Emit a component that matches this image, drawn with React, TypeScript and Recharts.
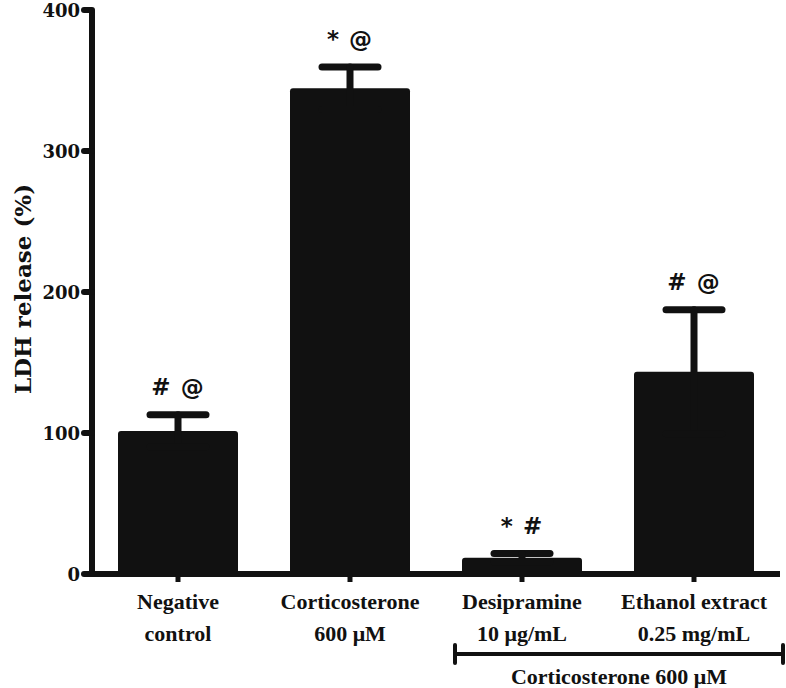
import React from 'react';
import { BarChart, Bar, XAxis, YAxis, ErrorBar, LabelList } from 'recharts';

const labelLine1 = ['Negative', 'Corticosterone', 'Desipramine', 'Ethanol extract'];
const labelLine2 = ['control', '600 μM', '10 μg/mL', '0.25 mg/mL'];
const means = [101.5, 344.5, 11.5, 143.5];
const errors = [11.5, 15, 3, 44];
const marks = ['# @', '* @', '* #', '# @'];
const yTicks = [0, 100, 200, 300, 400];
const groupLabel = 'Corticosterone 600 μM';
const yTitle = 'LDH release (%)';

const data = labelLine1.map((n, i) => ({
  name: n,
  line2: labelLine2[i],
  value: means[i],
  err: errors[i],
  mark: marks[i],
}));

const INK = '#111111';
const SERIF = '"DejaVu Serif", serif';
const XFONT = '"Liberation Serif", "Times New Roman", serif';

const XTick = (props: any) => {
  const { x, y, payload, index } = props;
  const i = index ?? payload.index;
  const common = { textAnchor: 'middle' as const, fontFamily: XFONT, fontWeight: 'bold', fontSize: 22, fill: INK };
  return (
    <g>
      <text x={x} y={y + 25} {...common}>
        {labelLine1[i]}
      </text>
      <text x={x} y={y + 57} {...common}>
        {labelLine2[i]}
      </text>
      {i === 2 && (
        <g>
          <line x1={x - 67} y1={y + 70} x2={x + 261} y2={y + 70} stroke={INK} strokeWidth={4} />
          <line x1={x - 67} y1={y + 61} x2={x - 67} y2={y + 79} stroke={INK} strokeWidth={4} strokeLinecap="round" />
          <line x1={x + 261} y1={y + 61} x2={x + 261} y2={y + 79} stroke={INK} strokeWidth={4} strokeLinecap="round" />
          <text x={x + 97} y={y + 100} {...common}>
            {groupLabel}
          </text>
        </g>
      )}
    </g>
  );
};

const YTick = (props: any) => {
  const { x, y, payload } = props;
  return (
    <text x={x} y={y} dy={6.5} textAnchor="end" fontFamily={SERIF} fontWeight="bold" fontSize={18} fill={INK}>
      {payload.value}
    </text>
  );
};

const YTitle = (props: any) => {
  const { viewBox } = props;
  const cx = 22;
  const cy = viewBox.y + viewBox.height / 2 - 3;
  return (
    <text
      x={cx}
      y={cy}
      transform={`rotate(-90 ${cx} ${cy})`}
      textAnchor="middle"
      dominantBaseline="central"
      fontFamily={SERIF}
      fontWeight="bold"
      fontSize={23}
      fill={INK}
    >
      {yTitle}
    </text>
  );
};

const MarkLabel = (props: any) => {
  const { x, y, width, height, index } = props;
  const d = data[index];
  const pxPerUnit = height / d.value;
  const top = y - d.err * pxPerUnit;
  return (
    <text
      x={x + width / 2}
      y={top - 20}
      textAnchor="middle"
      fontFamily='"DejaVu Sans", sans-serif'
      fontWeight="bold"
      fontSize={23}
      letterSpacing={1}
      fill={INK}
    >
      {d.mark}
    </text>
  );
};

export default function App() {
  return (
    <div style={{ position: 'absolute', left: 0, top: 0, width: 786, height: 688, background: '#fff' }}>
      <BarChart
        width={786}
        height={688}
        data={data}
        margin={{ top: 10, right: 6, bottom: 0, left: 0 }}
        barSize={120}
      >
        <XAxis
          dataKey="name"
          interval={0}
          tick={<XTick />}
          tickSize={8}
          axisLine={{ stroke: INK, strokeWidth: 6 }}
          tickLine={{ stroke: INK, strokeWidth: 5 }}
          height={114}
        />
        <YAxis
          width={92}
          domain={[0, 400]}
          ticks={yTicks}
          tick={<YTick />}
          tickSize={8}
          tickMargin={4}
          axisLine={{ stroke: INK, strokeWidth: 6 }}
          tickLine={{ stroke: INK, strokeWidth: 6, strokeLinecap: 'round' }}
          label={<YTitle />}
        />
        <Bar dataKey="value" fill={INK} radius={3} isAnimationActive={false}>
          <ErrorBar dataKey="err" width={28} stroke={INK} strokeWidth={7} strokeLinecap="round" direction="y" />
          <LabelList dataKey="value" content={<MarkLabel />} />
        </Bar>
      </BarChart>
    </div>
  );
}
